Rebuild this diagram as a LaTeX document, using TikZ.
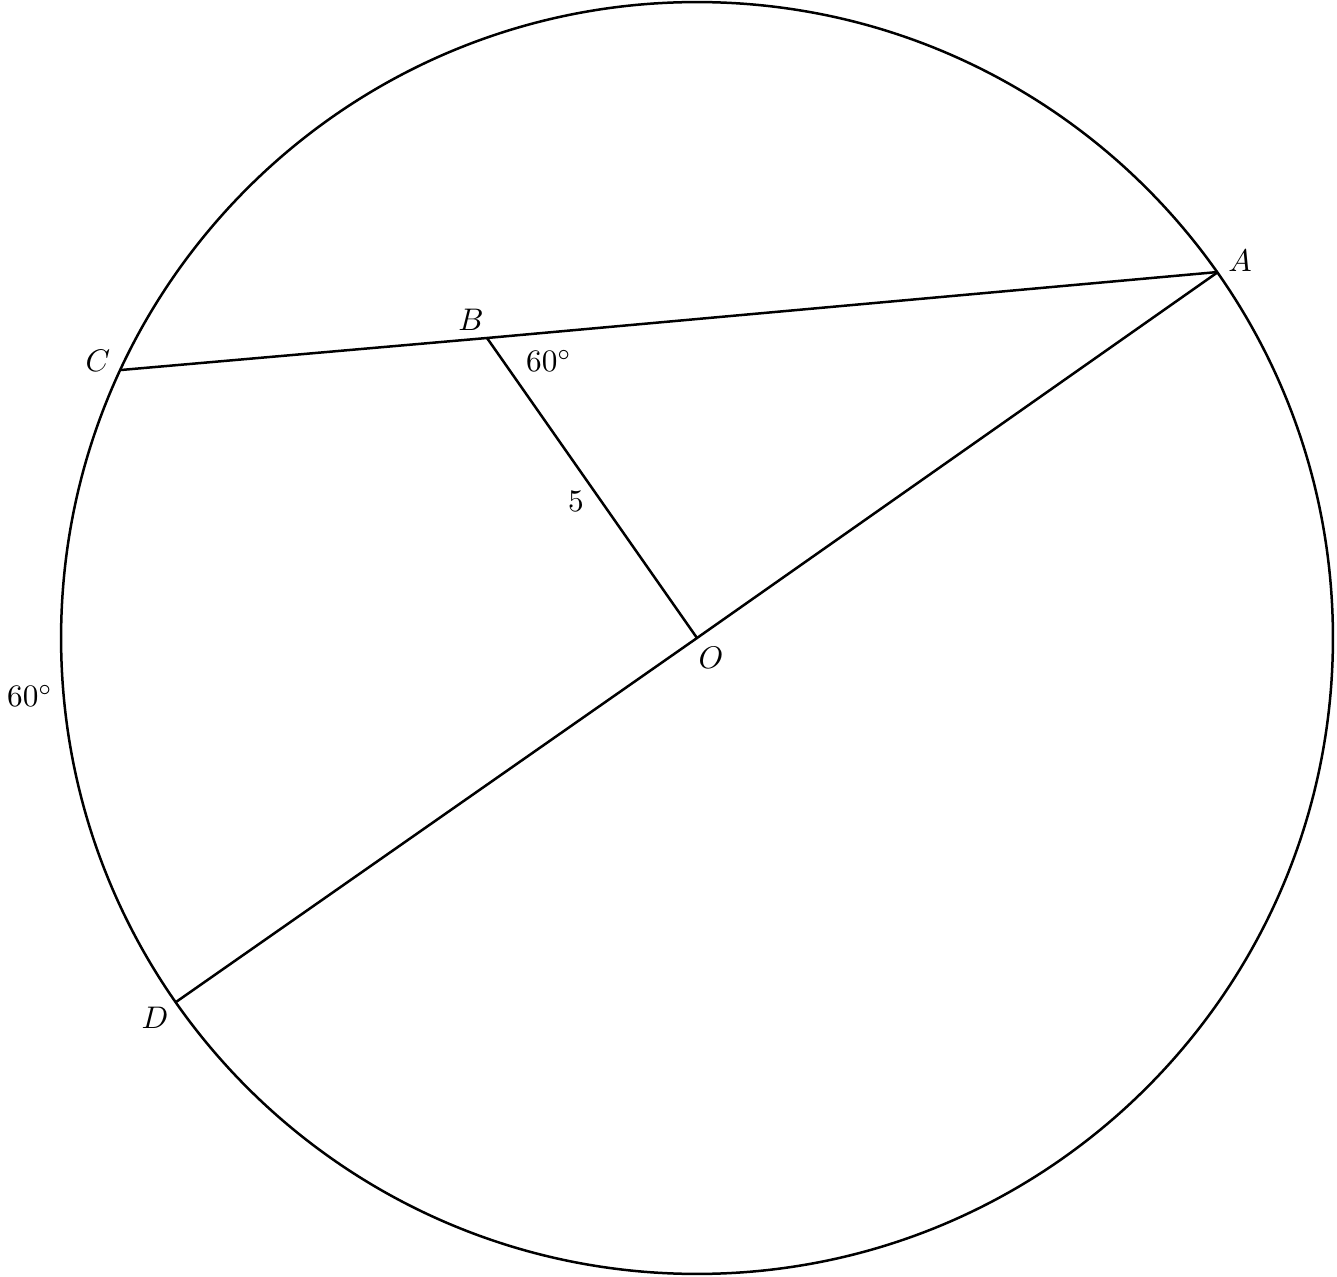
\documentclass[tikz,border=0pt]{standalone}
\begin{document}
\begin{tikzpicture}[x=0.32pt,y=-0.32pt,
  geo/.style={line width=0.8pt},
  lbl/.style={inner sep=0pt}]
\useasboundingbox (0,0) rectangle (1337,1277);
\coordinate (O) at (697,638);
\coordinate (A) at (1218,272);
\coordinate (C) at (121,370);
\coordinate (D) at (176,1002);
\coordinate (B) at (487,338);
\draw[geo] (O) circle[radius=203.5pt];
\draw[geo] (C) -- (B) -- (A);
\draw[geo] (A) -- (O) -- (D);
\draw[geo] (B) -- (O);
\node[lbl] (lA) at (1240,261) {$A$};
\node[lbl] (lB) at (471,320) {$B$};
\node[lbl] (lC) at (98,361) {$C$};
\node[lbl] (lD) at (155,1018) {$D$};
\node[lbl] (lO) at (711,658) {$O$};
\node[lbl] (ang) at (549,361) {$60^\circ$};
\node[lbl] (five) at (576,501) {$5$};
\node[lbl] (arc) at (30,696) {$60^\circ$};
\end{tikzpicture}
\end{document}
